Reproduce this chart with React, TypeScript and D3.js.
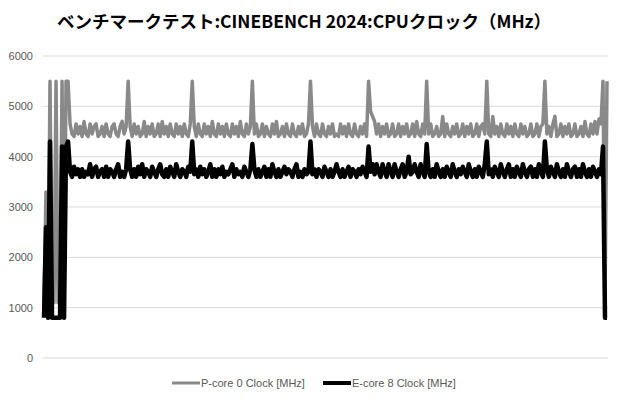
import React from "react";
import * as d3 from "d3";

const TITLE = "ベンチマークテスト:CINEBENCH 2024:CPUクロック（MHz）";
const SERIES_NAMES = ["P-core 0 Clock [MHz]", "E-core 8 Clock [MHz]"];
const Y_TICKS = [0, 1000, 2000, 3000, 4000, 5000, 6000];

const pStart = [1100, 3300, 1100, 5500, 1100, 1100, 5500, 1100, 1100, 5500, 1100, 5500, 5500];
const eStart = [800, 2600, 800, 4300, 800, 800, 800, 800, 800, 4200, 800, 4200, 4300];

const pA = [4650,4450,4400,4650,4450,4600,4400,4700,4450,4400,4650,4450,4600,4650,4400,4450,4600,4400,4650,4450,4400,4600,4650,4450,4400,4600,4700,4450,4600, 5500];
const eA = [3700,3600,3800,3650,3750,3600,3750,3600,3700,3650,3850,3600,3750,3800,3600,3700,3750,3600,3800,3600,3750,3700,3600,3750,3850,3600,3700,3600,3750, 4300];

const pB = [4600,4400,4650,4450,4600,4400,4450,4700,4400,4600,4450,4650,4400,4450,4650,4400,4700,4450,4600,4400,4650,4450,4400,4650,4450,4600,4400,4650,4450,4400,4650, 5500];
const eB = [3750,3600,3750,3600,3800,3650,3850,3600,3750,3700,3600,3800,3700,3600,3750,3850,3650,3600,3750,3600,3800,3700,3600,3850,3700,3600,3750,3700,3600,3800,3700, 4300];

const pC = [4600,4400,4650,4450,4400,4650,4450,4600,4400,4700,4450,4400,4650,4450,4600,4400,4650,4450,4400,4650,4450,4600,4400,4700,4450,4400,4650,4450,4600, 5500];
const eC = [3650,3750,3600,3800,3650,3750,3600,3700,3850,3600,3750,3600,3750,3650,3800,3600,3700,3650,3750,3850,3600,3750,3650,3700,3600,3800,3700,3600,3750, 4250];

const pD = [4450,4650,4400,4450,4650,4400,4600,4450,4400,4650,4450,4700,4400,4450,4600,4400,4650,4450,4400,4650,4450,4400,4600,4450,4650,4400,4450,4650, 5500];
const eD = [3750,3600,3750,3600,3700,3800,3600,3750,3600,3850,3700,3600,3750,3600,3700,3800,3650,3750,3700,3600,3750,3850,3600,3700,3600,3750,3650,3700, 4300];

const pE = [4600,4400,4650,4450,4400,4650,4450,4400,4600,4450,4650,4400,4450,4400,4650,4450,4600,4400,4650,4450,4400,4650,4450,4400,4600,4450,4650,4400, 5500];
const eE = [3650,3750,3600,3750,3700,3600,3800,3700,3600,3750,3600,3700,3850,3700,3600,3750,3600,3700,3800,3600,3750,3700,3600,3750,3650,3800,3700,3600, 4200];

const pF = [4900,4800,4700,4450,4650,4400,4600,4450,4650,4400,4450,4650,4400,4450,4650,4400,4600,4450,4650,4400,4450,4650,4400,4700,4450,4400,4650,4450, 5500];
const eF = [3700,3850,3650,3850,3700,3600,3850,3700,3600,3850,3700,3600,3850,3700,3600,3750,3850,3600,3700,4000,3650,3700,3850,3700,3600,3850,3700,3600, 4250];

const pG = [4450,4650,4400,4450,4600,4400,4450,4800,4400,4650,4450,4400,4600,4450,4650,4400,4450,4650,4400,4600,4450,4650,4400,4450,4650,4400,4600,4650,4450, 5500];
const eG = [3700,3600,3750,3600,3850,3700,3600,3750,3600,3800,3700,3600,3850,3700,3600,3750,3650,3800,3700,3600,3850,3700,3600,3750,3600,3800,3700,3600,3850, 4300];

const pH = [4450,4400,4800,4450,4600,4400,4650,4450,4400,4650,4450,4600,4400,4650,4450,4400,4650,4450,4600,4400,4450,4650,4400,4450,4650,4400,4600,4650, 5500];
const eH = [3650,3750,3600,3800,3700,3600,3850,3700,3600,3750,3850,3600,3750,3600,3800,3700,3600,3850,3700,3600,3750,3800,3600,3750,3600,3850,3700,3600, 4300];

const pI = [4450,4600,4400,4650,4800,4400,4450,4650,4400,4600,4450,4650,4400,4450,4650,4400,4450,4600,4400,4700,4450,4400,4650,4450,4700,4450,4750,4650];
const eI = [3750,3600,3800,3700,3600,3850,3700,3600,3750,3600,3850,3700,3600,3750,3800,3600,3750,3600,3850,3700,3600,3750,3600,3800,3700,3600,3750,3650];

const pEnd = [5500, 1100, 5500];
const eEnd = [4200, 800, 800];

const pCore = [...pStart, ...pA, ...pB, ...pC, ...pD, ...pE, ...pF, ...pG, ...pH, ...pI, ...pEnd];
const eCore = [...eStart, ...eA, ...eB, ...eC, ...eD, ...eE, ...eF, ...eG, ...eH, ...eI, ...eEnd];

const W = 620;
const H = 400;
const PLOT_L = 43;
const PLOT_R = 608;
const PLOT_T = 56;
const PLOT_B = 358;

const GRAY = "#898989";
const LABEL = "#595959";

export default function App() {
  const n = pCore.length;
  const x = d3.scaleLinear().domain([0, n - 1]).range([PLOT_L + 1, PLOT_R - 1]);
  const y = d3.scaleLinear().domain([0, 6000]).range([PLOT_B, PLOT_T]);
  const line = d3
    .line<number>()
    .x((_, i) => x(i))
    .y((d) => y(d));

  return (
    <svg
      width={W}
      height={H}
      style={{ position: "absolute", left: 0, top: 0, background: "#fff" }}
    >
      <text
        x={304}
        y={28}
        textAnchor="middle"
        fontFamily="'Noto Sans CJK JP', sans-serif"
        fontWeight="bold"
        fontSize={17.5}
        fill="#000"
      >
        {TITLE}
      </text>
      {Y_TICKS.map((t) => (
        <g key={t}>
          <line x1={PLOT_L} x2={PLOT_R} y1={y(t)} y2={y(t)} stroke="#d9d9d9" strokeWidth={1} />
          <text
            x={33}
            y={y(t)}
            dy="0.35em"
            textAnchor="end"
            fontFamily="'Liberation Sans', Arial, sans-serif"
            fontSize={11}
            fill={LABEL}
          >
            {t}
          </text>
        </g>
      ))}
      <path d={line(pCore) || ""} fill="none" stroke={GRAY} strokeWidth={3.5} strokeLinejoin="round" />
      <path d={line(eCore) || ""} fill="none" stroke="#000" strokeWidth={4.5} strokeLinejoin="round" />
      <g fontFamily="'Liberation Sans', Arial, sans-serif" fontSize={11} fill={LABEL}>
        <line x1={172} x2={200} y1={383} y2={383} stroke={GRAY} strokeWidth={3} />
        <text x={201} y={383} dy="0.35em">{SERIES_NAMES[0]}</text>
        <line x1={323} x2={351} y1={383} y2={383} stroke="#000" strokeWidth={4} />
        <text x={352} y={383} dy="0.35em">{SERIES_NAMES[1]}</text>
      </g>
    </svg>
  );
}
